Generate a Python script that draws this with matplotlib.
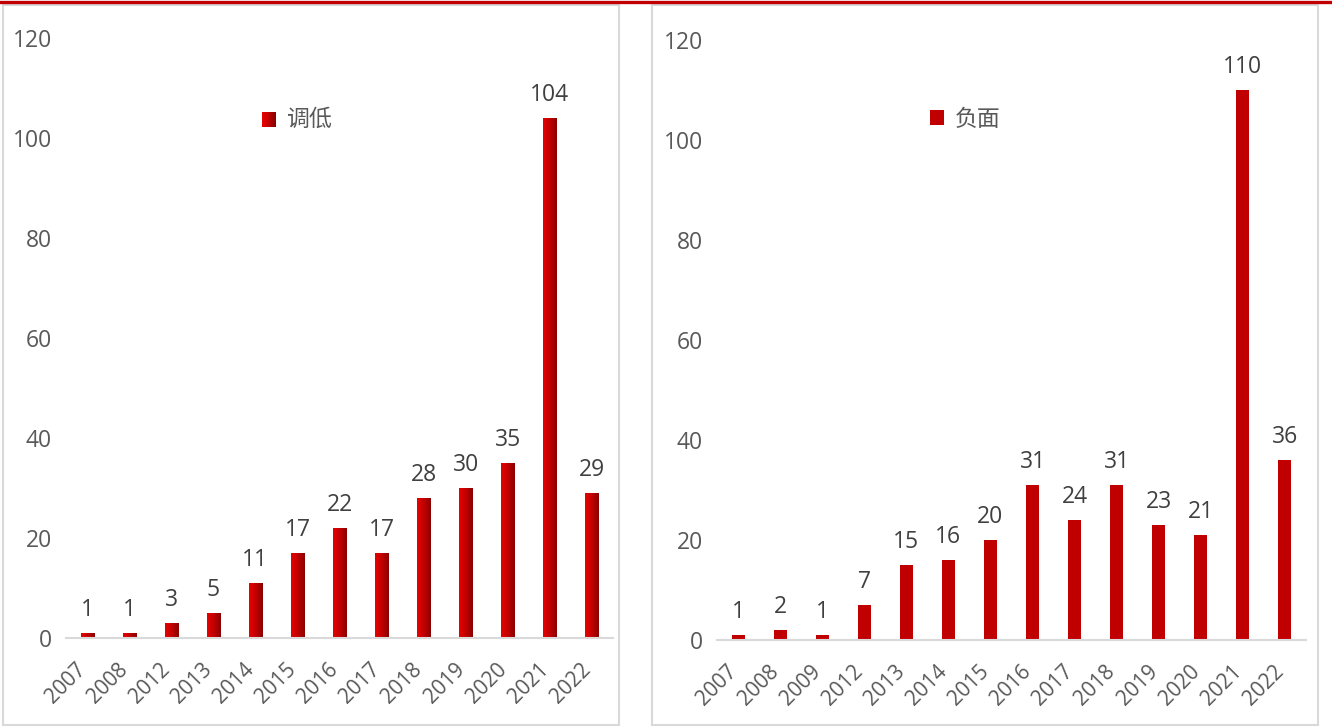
import numpy as np
import matplotlib.pyplot as plt
import matplotlib.transforms as mtransforms
from matplotlib.colors import LinearSegmentedColormap
from matplotlib.patches import Rectangle
from matplotlib.lines import Line2D

plt.rcParams['font.family'] = ['Open Sans', 'Noto Sans CJK SC', 'DejaVu Sans']

# 调低
years_down = ['2007', '2008', '2012', '2013', '2014', '2015', '2016',
              '2017', '2018', '2019', '2020', '2021', '2022']
counts_down = [1, 1, 3, 5, 11, 17, 22, 17, 28, 30, 35, 104, 29]

# 负面
years_neg = ['2007', '2008', '2009', '2012', '2013', '2014', '2015', '2016',
             '2017', '2018', '2019', '2020', '2021', '2022']
counts_neg = [1, 2, 1, 7, 15, 16, 20, 31, 24, 31, 23, 21, 110, 36]

RED = '#C00000'
TICK = '#595959'
LABEL = '#404040'
FS = 16.5
grad = LinearSegmentedColormap.from_list('g', ['#E80000', '#C00000', '#8A0000'])

W, H = 1332, 728
fig = plt.figure(figsize=(W / 100, H / 100), dpi=100)


def px(x0, y0, x1, y1):
    # pixel box (top-left origin) -> figure fraction rect
    return [x0 / W, 1 - y1 / H, (x1 - x0) / W, (y1 - y0) / H]


class GradHandler:
    def legend_artist(self, legend, orig_handle, fontsize, handlebox):
        x0, y0 = handlebox.xdescent, handlebox.ydescent
        w, h = handlebox.width, handlebox.height
        n = 12
        for i in range(n):
            r = Rectangle((x0 + w * i / n, y0), w / n * 1.05, h,
                          color=grad(i / (n - 1)), lw=0,
                          transform=handlebox.get_transform())
            handlebox.add_artist(r)
        return r


def panel(rect, cats, vals, name, gradient, leg_xy):
    ax = fig.add_axes(rect)
    x = np.arange(len(cats))
    bars = ax.bar(x, vals, width=0.31, color=RED, label=name, zorder=2)
    if gradient:
        g = np.linspace(0, 1, 64).reshape(1, -1)
        for b in bars:
            ax.imshow(g, extent=[b.get_x(), b.get_x() + b.get_width(), 0, b.get_height()],
                      aspect='auto', cmap=grad, zorder=2, interpolation='bilinear')
    ax.bar_label(bars, labels=[str(v) for v in vals], padding=8,
                 fontsize=FS, color=LABEL)
    ax.set_xlim(-0.5, len(cats) - 0.5)
    ax.set_ylim(0, 120)
    ax.set_yticks(range(0, 121, 20))
    ax.set_xticks(x)
    ax.set_xticklabels(cats, rotation=45, ha='right', rotation_mode='default')
    ax.tick_params(length=0, labelsize=FS, labelcolor=TICK)
    ax.tick_params(axis='y', pad=10)
    ax.tick_params(axis='x', pad=15, labelsize=15)
    shift = mtransforms.ScaledTranslation(3 / 100, 0, fig.dpi_scale_trans)
    for lbl in ax.get_xticklabels():
        lbl.set_transform(lbl.get_transform() + shift)
    for s in ['top', 'right', 'left']:
        ax.spines[s].set_visible(False)
    ax.spines['bottom'].set_color('#D9D9D9')
    ax.spines['bottom'].set_linewidth(1.5)
    ax.patch.set_alpha(0)
    kw = {}
    if gradient:
        kw['handler_map'] = {type(bars[0]): GradHandler()}
    leg = ax.legend(handles=[bars[0]], labels=[name], loc='center left',
                    bbox_to_anchor=leg_xy, frameon=False, fontsize=FS,
                    handlelength=0.62, handleheight=0.62, handletextpad=0.45,
                    borderaxespad=0, borderpad=0, **kw)
    for t in leg.get_texts():
        t.set_color(TICK)
    if gradient:
        for b in bars:
            b.set_visible(False)
    return ax


# panel frames and the red rule along the top
for box in [(3, 5, 619, 725), (652, 5, 1318, 725)]:
    r = px(*box)
    fig.add_artist(Rectangle(r[:2], r[2], r[3], transform=fig.transFigure,
                             fill=False, ec='#D9D9D9', lw=1.5))
fig.add_artist(Line2D([0, 1], [1 - 1.5 / H, 1 - 1.5 / H], transform=fig.transFigure,
                      color=RED, lw=2.4))

panel(px(66, 38, 613, 638), years_down, counts_down, '调低', True, (0.358, 0.863))
panel(px(717, 40, 1306, 640), years_neg, counts_neg, '负面', False, (0.362, 0.867))

fig.savefig('out.png', dpi=100)
